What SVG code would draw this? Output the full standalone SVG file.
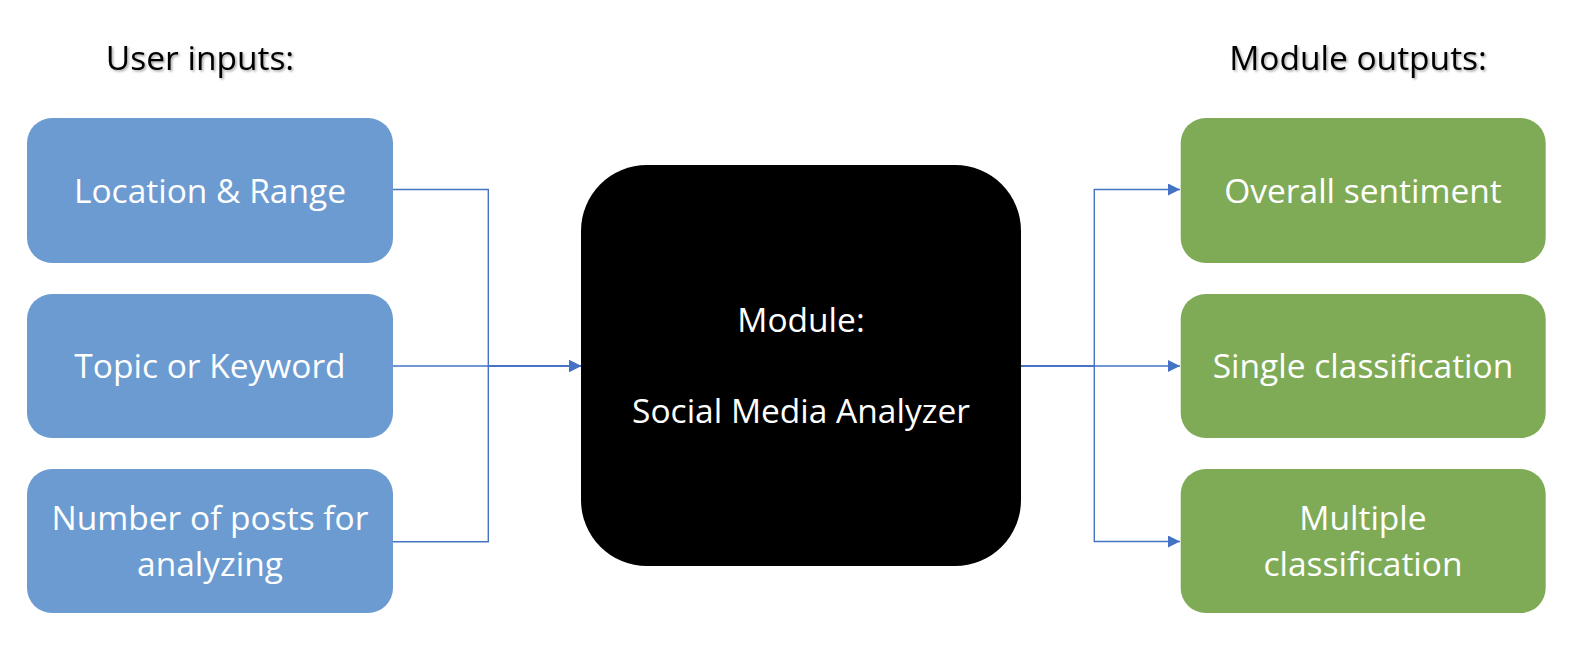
<svg xmlns="http://www.w3.org/2000/svg" width="1590" height="672" viewBox="0 0 1590 672">
<style>
.lbl{font-family:"Open Sans","Liberation Sans",sans-serif;font-size:33.5px;fill:#ffffff;text-anchor:middle}
.hdr{font-family:"Open Sans","Liberation Sans",sans-serif;font-size:33.5px;fill:#000000;text-anchor:middle}
.in{fill:#6B9BD1}
.out{fill:#7FAB57}
.conn{fill:none;stroke:#4472C4;stroke-width:1.4}
</style>
<defs>
<marker id="arr" markerUnits="userSpaceOnUse" markerWidth="13" markerHeight="13" refX="12" refY="6" orient="auto">
<path d="M0,0 L12,6 L0,12 z" fill="#4472C4"/>
</marker>
<filter id="sh" x="-10%" y="-30%" width="120%" height="160%">
<feDropShadow dx="1.5" dy="1.5" stdDeviation="1.2" flood-color="#000" flood-opacity="0.35"/>
</filter>
</defs>
<rect width="1590" height="672" fill="#ffffff"/>

<g id="hdr-inputs"><text class="hdr" x="200" y="70" filter="url(#sh)">User inputs:</text></g>
<g id="hdr-outputs"><text class="hdr" x="1358" y="70" filter="url(#sh)">Module outputs:</text></g>

<g id="connectors">
<path class="conn" d="M392.7,189.5 H488.3 V366 H581" marker-end="url(#arr)"/>
<path class="conn" d="M392.7,366 H581" marker-end="url(#arr)"/>
<path class="conn" d="M392.7,541.7 H488.3 V366 H581" marker-end="url(#arr)"/>
<path class="conn" d="M1020.7,366 H1094.3 V189.5 H1180" marker-end="url(#arr)"/>
<path class="conn" d="M1020.7,366 H1180" marker-end="url(#arr)"/>
<path class="conn" d="M1020.7,366 H1094.3 V541.5 H1180" marker-end="url(#arr)"/>
</g>

<g id="in-location">
<rect class="in" x="27" y="118" width="366" height="145" rx="25"/>
<text class="lbl" x="210" y="202.5">Location &amp; Range</text>
</g>
<g id="in-topic">
<rect class="in" x="27" y="294" width="366" height="144" rx="25"/>
<text class="lbl" x="210" y="378">Topic or Keyword</text>
</g>
<g id="in-number">
<rect class="in" x="27" y="469" width="366" height="144" rx="25"/>
<text class="lbl" x="210" y="530">Number of posts for</text>
<text class="lbl" x="210" y="576">analyzing</text>
</g>

<g id="module">
<rect x="581" y="165" width="440" height="401" rx="66" fill="#000000"/>
<text class="lbl" x="801" y="331.5">Module:</text>
<text class="lbl" x="801" y="423">Social Media Analyzer</text>
</g>

<g id="out-overall">
<rect class="out" x="1180.7" y="118" width="365" height="145" rx="25"/>
<text class="lbl" x="1363" y="202.5">Overall sentiment</text>
</g>
<g id="out-single">
<rect class="out" x="1180.7" y="294" width="365" height="144" rx="25"/>
<text class="lbl" x="1363" y="378">Single classification</text>
</g>
<g id="out-multiple">
<rect class="out" x="1180.7" y="469" width="365" height="144" rx="25"/>
<text class="lbl" x="1363" y="530">Multiple</text>
<text class="lbl" x="1363" y="576">classification</text>
</g>
</svg>
